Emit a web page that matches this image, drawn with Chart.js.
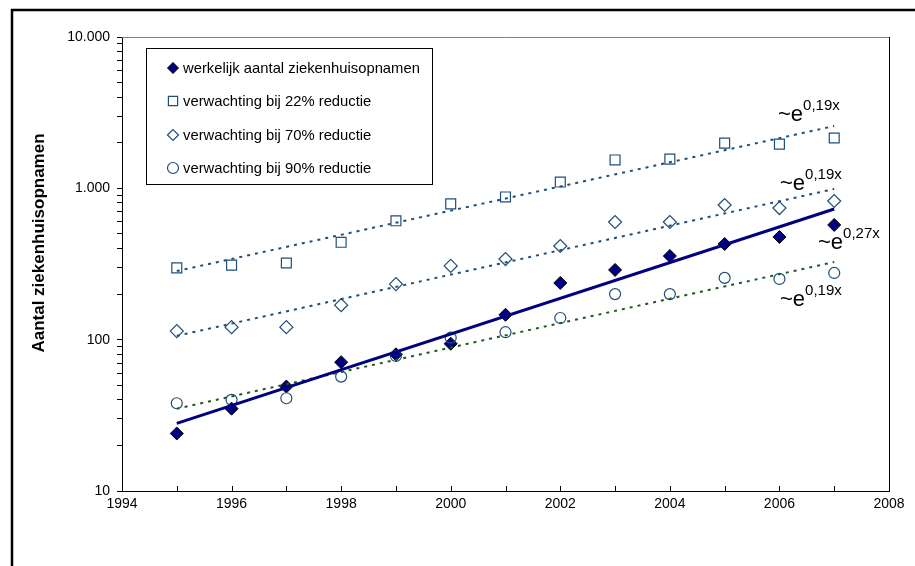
<!DOCTYPE html>
<html>
<head>
<meta charset="utf-8">
<title>Ziekenhuisopnamen</title>
<script src="https://cdn.jsdelivr.net/npm/chart.js@4.4.0/dist/chart.umd.min.js"></script>
<style>
  html, body { margin: 0; padding: 0; background: #fff; }
  #wrap { position: relative; width: 915px; height: 566px; }
</style>
</head>
<body>
<div id="wrap"><canvas id="chart" width="915" height="566"></canvas></div>
<script>
// Data
const years = [1995, 1996, 1997, 1998, 1999, 2000, 2001, 2002, 2003, 2004, 2005, 2006, 2007];
const werkelijk = [24, 35, 49, 71, 80, 94, 146, 237, 289, 357, 429, 477, 573];
const reductie22 = [298, 311, 321, 440, 610, 790, 877, 1100, 1540, 1560, 1990, 1960, 2150];
const reductie70 = [114, 121, 121, 169, 233, 307, 341, 416, 599, 599, 776, 741, 825];
const reductie90 = [38, 40, 41, 57, 78, 103, 112, 139, 200, 200, 256, 252, 276];

// Exponential trend lines: start and end values (straight on a log axis)
const trendYears = [1995, 2007];
const trendWerkelijk = [28, 730];
const trend22 = [284, 2580];
const trend70 = [106, 990];
const trend90 = [35, 326];
const trendLabels = ['0,19x', '0,19x', '0,27x', '0,19x'];

// Axis labels
const yTickValues = [10, 100, 1000, 10000];
const yTickLabels = ['10', '100', '1.000', '10.000'];
const xLabelYears = [1994, 1996, 1998, 2000, 2002, 2004, 2006, 2008];
const yTitle = 'Aantal ziekenhuisopnamen';

const legendLabels = [
    'werkelijk aantal ziekenhuisopnamen',
    'verwachting bij 22% reductie',
    'verwachting bij 70% reductie',
    'verwachting bij 90% reductie'
];

const NAVY = '#000080';
const OPEN = '#1f4e79';
const GREEN = '#1e5a1e';
const FONT = 'Arial, "Liberation Sans", sans-serif';

function toPoints(xs, ys) {
    return xs.map((x, i) => ({ x: x, y: ys[i] }));
}

const markerStyles = [
    { pointStyle: 'rectRot', radius: 6.5, fill: NAVY, stroke: '#000', borderWidth: 1 },
    { pointStyle: 'rect', radius: 7, fill: 'rgba(0,0,0,0)', stroke: OPEN, borderWidth: 1.2 },
    { pointStyle: 'rectRot', radius: 6.5, fill: 'rgba(0,0,0,0)', stroke: OPEN, borderWidth: 1.2 },
    { pointStyle: 'circle', radius: 5.5, fill: 'rgba(0,0,0,0)', stroke: OPEN, borderWidth: 1.2 }
];

function markerDataset(label, values, style, order) {
    return {
        label: label,
        data: toPoints(years, values),
        showLine: false,
        pointStyle: style.pointStyle,
        pointRadius: style.radius,
        pointBackgroundColor: style.fill,
        pointBorderColor: style.stroke,
        pointBorderWidth: style.borderWidth,
        order: order
    };
}

function trendDataset(values, color, width, dash, order) {
    return {
        label: 'trend',
        data: toPoints(trendYears, values),
        showLine: true,
        borderColor: color,
        borderWidth: width,
        borderDash: dash,
        pointRadius: 0,
        fill: false,
        order: order
    };
}

// Draws frame, inward x ticks, plot border, axis title, legend and trend labels
const decorPlugin = {
    id: 'decor',
    beforeDraw(chart) {
        const ctx = chart.ctx;
        ctx.save();
        ctx.fillStyle = '#fff';
        ctx.fillRect(0, 0, chart.width, chart.height);
        ctx.strokeStyle = '#000';
        ctx.lineWidth = 2.5;
        ctx.beginPath();
        ctx.moveTo(12, chart.height + 5);
        ctx.lineTo(12, 10);
        ctx.lineTo(chart.width + 5, 10);
        ctx.stroke();
        ctx.restore();
    },
    afterDraw(chart) {
        const ctx = chart.ctx;
        const area = chart.chartArea;
        const xScale = chart.scales.x;
        ctx.save();

        // plot border top / right
        ctx.lineWidth = 1;
        ctx.strokeStyle = '#808080';
        ctx.beginPath();
        ctx.moveTo(area.left, area.top + 0.5);
        ctx.lineTo(area.right, area.top + 0.5);
        ctx.stroke();
        ctx.strokeStyle = '#000';
        ctx.beginPath();
        ctx.moveTo(area.right + 0.5, area.top);
        ctx.lineTo(area.right + 0.5, area.bottom);
        ctx.stroke();

        // x ticks pointing up into the plot
        xScale.ticks.forEach(t => {
            const px = Math.round(xScale.getPixelForValue(t.value)) + 0.5;
            ctx.beginPath();
            ctx.moveTo(px, area.bottom);
            ctx.lineTo(px, area.bottom - 5);
            ctx.stroke();
        });

        // y axis title (sits a bit above the plot centre in the original)
        ctx.save();
        ctx.translate(39, 243);
        ctx.rotate(-Math.PI / 2);
        ctx.font = 'bold 17px ' + FONT;
        ctx.fillStyle = '#000';
        ctx.textAlign = 'center';
        ctx.textBaseline = 'middle';
        ctx.fillText(yTitle, 0, 0);
        ctx.restore();

        // legend box
        const lx = 146, ly = 48, lw = 286, lh = 136;
        ctx.fillStyle = '#fff';
        ctx.fillRect(lx, ly, lw, lh);
        ctx.strokeStyle = '#000';
        ctx.lineWidth = 1;
        ctx.strokeRect(lx + 0.5, ly + 0.5, lw, lh);
        const rowY = [68, 101, 135, 168];
        ctx.font = '14.8px ' + FONT;
        ctx.textBaseline = 'middle';
        ctx.textAlign = 'left';
        legendLabels.forEach((text, i) => {
            const st = markerStyles[i];
            ctx.fillStyle = st.fill;
            ctx.strokeStyle = st.stroke;
            ctx.lineWidth = st.borderWidth;
            Chart.helpers.drawPoint(ctx, {
                pointStyle: st.pointStyle,
                radius: st.pointStyle === 'rect' ? 6.5 : 5.5,
                borderWidth: st.borderWidth,
                rotation: 0
            }, 173, rowY[i]);
            ctx.fillStyle = '#000';
            ctx.fillText(text, 183, rowY[i] + 1);
        });

        // trend labels ~e^k
        const labelPos = [
            { x: 778, y: 121 },
            { x: 780, y: 190 },
            { x: 818, y: 249 },
            { x: 780, y: 306 }
        ];
        ctx.fillStyle = '#000';
        ctx.textBaseline = 'alphabetic';
        trendLabels.forEach((exp, i) => {
            const p = labelPos[i];
            ctx.font = '22px ' + FONT;
            ctx.fillText('~e', p.x, p.y);
            const w = ctx.measureText('~e').width;
            ctx.font = '15px ' + FONT;
            ctx.fillText(exp, p.x + w, p.y - 11);
        });

        ctx.restore();
    }
};

const ctx = document.getElementById('chart').getContext('2d');
new Chart(ctx, {
    type: 'scatter',
    data: {
        datasets: [
            trendDataset(trendWerkelijk, NAVY, 3, [], 0),
            trendDataset(trend22, OPEN, 2, [3, 5], 1),
            trendDataset(trend70, OPEN, 2, [3, 5], 2),
            trendDataset(trend90, GREEN, 2, [3, 5], 3),
            markerDataset(legendLabels[3], reductie90, markerStyles[3], 4),
            markerDataset(legendLabels[2], reductie70, markerStyles[2], 5),
            markerDataset(legendLabels[1], reductie22, markerStyles[1], 6),
            markerDataset(legendLabels[0], werkelijk, markerStyles[0], 7)
        ]
    },
    options: {
        responsive: false,
        animation: false,
        events: [],
        layout: { padding: { left: 0, top: 37, right: 26, bottom: 0 } },
        plugins: {
            legend: { display: false },
            tooltip: { enabled: false }
        },
        scales: {
            x: {
                type: 'linear',
                min: 1994,
                max: 2008,
                ticks: {
                    stepSize: 1,
                    autoSkip: false,
                    maxRotation: 0,
                    padding: 5,
                    color: '#000',
                    font: { family: FONT, size: 14 },
                    callback: v => xLabelYears.includes(v) ? String(v) : ''
                },
                grid: { display: false, drawTicks: false },
                border: { display: true, color: '#000', width: 1 },
                afterFit: scale => { scale.height = 75; }
            },
            y: {
                type: 'logarithmic',
                min: 10,
                max: 10000,
                afterBuildTicks: scale => {
                    const ticks = [];
                    for (let e = 10; e < 10000; e *= 10) {
                        for (let m = 1; m < 10; m++) ticks.push({ value: m * e });
                    }
                    ticks.push({ value: 10000 });
                    scale.ticks = ticks;
                },
                ticks: {
                    autoSkip: false,
                    padding: 7,
                    color: '#000',
                    font: { family: FONT, size: 14 },
                    callback: v => {
                        const i = yTickValues.indexOf(v);
                        return i >= 0 ? yTickLabels[i] : '';
                    }
                },
                grid: { drawOnChartArea: false, color: '#000', tickLength: 5 },
                border: { display: true, color: '#000', width: 1 },
                afterFit: scale => { scale.width = 122; }
            }
        }
    },
    plugins: [decorPlugin]
});
</script>
</body>
</html>
